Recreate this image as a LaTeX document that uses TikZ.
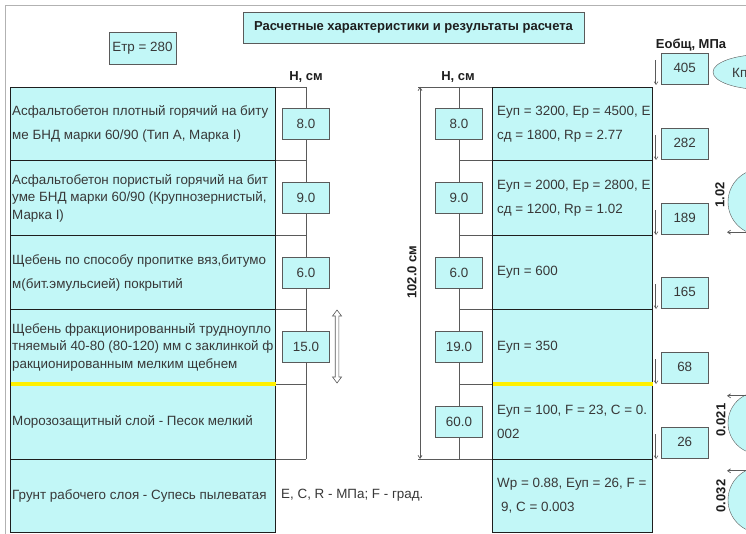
\documentclass[tikz,border=0pt]{standalone}
\usepackage{fontspec}
\setmainfont{Liberation Sans}
\definecolor{LayerCyan}{HTML}{C2F7F7}
\definecolor{LineDark}{HTML}{1E1E1E}
\definecolor{BoxGray}{HTML}{5A5A5A}
\definecolor{TextGray}{HTML}{383838}
\definecolor{FrostYellow}{HTML}{FFF000}
\usepackage{tikz}
\usetikzlibrary{arrows.meta,positioning,shapes.geometric}
\tikzset{
  layerbox/.style={
    draw=LineDark,
    line width=1.2pt,
    fill=LayerCyan,
    anchor=north west,
    inner sep=0pt
  },
  layertext/.style={
    anchor=west,
    align=left,
    inner sep=0pt,
    font=\fontsize{13.4}{24}\selectfont,
    text=TextGray
  },
  layertight/.style={
    layertext,
    font=\fontsize{13.4}{17.5}\selectfont
  },
  valbox/.style={
    draw=BoxGray,
    fill=LayerCyan,
    minimum width=47pt,
    minimum height=31pt,
    inner sep=0pt,
    font=\fontsize{13.4}{16}\selectfont,
    text=TextGray
  },
  headtext/.style={
    font=\fontsize{13}{15}\selectfont\bfseries,
    text=LineDark,
    inner sep=0pt
  },
  colline/.style={
    draw=BoxGray,
    line width=0.8pt
  },
  frostline/.style={
    draw=FrostYellow,
    line width=3.5pt
  },
  downarrow/.style={
    -{Straight Barb[length=3pt,width=4pt]},
    draw=BoxGray,
    double=white,
    double distance=0.8pt,
    line width=0.5pt
  },
  thinarrow/.style={
    -{Straight Barb[length=3pt,width=4pt]},
    draw=BoxGray,
    line width=0.7pt
  },
  roundbox/.style={
    draw=BoxGray,
    fill=LayerCyan,
    inner sep=0pt
  }
}

\begin{document}
\begin{tikzpicture}[x=1pt,y=-1pt]
\useasboundingbox (0,0) rectangle (746,534);
\clip (0,0) rectangle (746,534);
\fill[white] (0,0) rectangle (746,534);
\draw[gray!60, line width=1pt] (5,534) -- (5,6) -- (746,6);

% header
\node[valbox, headtext, minimum width=341pt, minimum height=31pt] (title) at (413.5,27.5)
  {Расчетные характеристики и результаты расчета};
\node[valbox, minimum width=67pt, minimum height=32pt] (etr) at (142.5,48) {Етр = 280};
\node[headtext] (hleft) at (306,77) {Н, см};
\node[headtext] (hright) at (458,77) {Н, см};

% layers, left side
\node[layerbox, minimum width=265pt, minimum height=73pt] (ll1) at (10,87) {};
\node[layerbox, minimum width=265pt, minimum height=75pt] (ll2) at (10,160) {};
\node[layerbox, minimum width=265pt, minimum height=74pt] (ll3) at (10,235) {};
\node[layerbox, minimum width=265pt, minimum height=75pt] (ll4) at (10,309) {};
\node[layerbox, minimum width=265pt, minimum height=75pt] (ll5) at (10,384) {};
\node[layerbox, minimum width=265pt, minimum height=73pt] (ll6) at (10,459) {};
\node[layertext] (lt1) at ([xshift=2pt]ll1.west) {Асфальтобетон плотный горячий на биту\\ме БНД марки 60/90 (Тип А, Марка I)};
\node[layertight] (lt2) at ([xshift=2pt]ll2.west) {Асфальтобетон пористый горячий на бит\\уме БНД марки 60/90 (Крупнозернистый,\\Марка I)};
\node[layertext] (lt3) at ([xshift=2pt]ll3.west) {Щебень по способу пропитке вяз,битумо\\м(бит.эмульсией) покрытий};
\node[layertight] (lt4) at ([xshift=2pt]ll4.west) {Щебень фракционированный трудноупло\\тняемый 40-80 (80-120) мм с заклинкой ф\\ракционированным мелким щебнем};
\node[layertext] (lt5) at ([xshift=2pt]ll5.west) {Морозозащитный слой - Песок мелкий};
\node[layertext] (lt6) at ([xshift=2pt]ll6.west) {Грунт рабочего слоя - Супесь пылеватая};
\node[layertext] (units) at (281,495) {E, C, R - МПа; F - град.};

% layers, right side
\node[layerbox, minimum width=160pt, minimum height=73pt] (rl1) at (492,87) {};
\node[layerbox, minimum width=160pt, minimum height=75pt] (rl2) at (492,160) {};
\node[layerbox, minimum width=160pt, minimum height=74pt] (rl3) at (492,235) {};
\node[layerbox, minimum width=160pt, minimum height=75pt] (rl4) at (492,309) {};
\node[layerbox, minimum width=160pt, minimum height=75pt] (rl5) at (492,384) {};
\node[layerbox, minimum width=160pt, minimum height=73pt] (rl6) at (492,459) {};
\node[layertext] (rt1) at ([xshift=5pt]rl1.west) {Еуп = 3200, Ер = 4500, Е\\сд = 1800, Rр = 2.77};
\node[layertext] (rt2) at ([xshift=5pt]rl2.west) {Еуп = 2000, Ер = 2800, Е\\сд = 1200, Rр = 1.02};
\node[layertext] (rt3) at ([xshift=5pt]rl3.west) {Еуп = 600};
\node[layertext] (rt4) at ([xshift=5pt]rl4.west) {Еуп = 350};
\node[layertext] (rt5) at ([xshift=5pt]rl5.west) {Еуп = 100, F = 23, C = 0.\\002};
\node[layertext] (rt6) at ([xshift=5pt]rl6.west) {Wр = 0.88, Еуп = 26, F =\\\hspace{0.3em}9, C = 0.003};

% frost boundary
\draw[frostline] ([xshift=0.6pt]ll5.north west) -- ([xshift=-0.6pt]ll5.north east);
\draw[frostline] ([xshift=0.6pt]rl5.north west) -- ([xshift=-0.6pt]rl5.north east);

% thickness column, left
\coordinate (lcol) at (306,87);
\draw[colline] (lcol) -- (lcol |- ll6.north);
\draw[colline] (ll1.north east) -- (ll1.north east -| lcol);
\draw[colline] (ll2.north east) -- (ll2.north east -| lcol);
\draw[colline] (ll3.north east) -- (ll3.north east -| lcol);
\draw[colline] (ll4.north east) -- (ll4.north east -| lcol);
\draw[colline] (ll5.north east) -- (ll5.north east -| lcol);
\draw[colline] (ll6.north east) -- (ll6.north east -| lcol);
\node[valbox] (lh1) at (lcol |- ll1.center) {8.0};
\node[valbox] (lh2) at (lcol |- ll2.center) {9.0};
\node[valbox] (lh3) at (lcol |- ll3.center) {6.0};
\node[valbox] (lh4) at (lcol |- ll4.center) {15.0};
\draw[BoxGray, fill=white, line width=0.6pt]
  (335.2,316) -- (332.5,316) -- (337,310) -- (341.5,316) -- (338.8,316)
  -- (338.8,377) -- (341.5,377) -- (337,383) -- (332.5,377) -- (335.2,377) -- cycle;

% thickness column, right
\coordinate (rcol) at (459,87);
\coordinate (dimtop) at (420,87);
\coordinate (dimbot) at (420,459);
\draw[colline] (rcol) -- (rcol |- rl6.north);
\draw[colline] (418,87) -- (rl1.north west);
\draw[colline] (dimbot) ++(-2,0) -- (rl6.north west);
\draw[colline] (rl2.north west) -- (rl2.north west -| rcol);
\draw[colline] (rl3.north west) -- (rl3.north west -| rcol);
\draw[colline] (rl4.north west) -- (rl4.north west -| rcol);
\draw[colline] (rl5.north west) -- (rl5.north west -| rcol);
\draw[thinarrow, {Straight Barb[length=3pt,width=4pt]}-{Straight Barb[length=3pt,width=4pt]}] (dimtop) -- (dimbot);
\node[headtext, rotate=90] (total) at (412,272) {102.0 см};
\node[valbox] (rh1) at (rcol |- rl1.center) {8.0};
\node[valbox] (rh2) at (rcol |- rl2.center) {9.0};
\node[valbox] (rh3) at (rcol |- rl3.center) {6.0};
\node[valbox] (rh4) at (rcol |- rl4.center) {19.0};
\node[valbox] (rh5) at (rcol |- rl5.center) {60.0};

% general moduli
\node[valbox, anchor=south west] (e0) at (661,84) {405};
\node[valbox, anchor=south west] (e1) at (661,159) {282};
\node[valbox, anchor=south west] (e2) at (661,234) {189};
\node[valbox, anchor=south west] (e3) at (661,308) {165};
\node[valbox, anchor=south west] (e4) at (661,383) {68};
\node[valbox, anchor=south west] (e5) at (661,458) {26};
\node[headtext] (etotal) at (691,45) {Еобщ, МПа};
\draw[downarrow] ([xshift=-5pt,yshift=24pt]e0.south west) -- ([xshift=-5pt,yshift=-1pt]e0.south west);
\draw[downarrow] ([xshift=-5pt,yshift=24pt]e1.south west) -- ([xshift=-5pt,yshift=-1pt]e1.south west);
\draw[downarrow] ([xshift=-5pt,yshift=24pt]e2.south west) -- ([xshift=-5pt,yshift=-1pt]e2.south west);
\draw[downarrow] ([xshift=-5pt,yshift=24pt]e3.south west) -- ([xshift=-5pt,yshift=-1pt]e3.south west);
\draw[downarrow] ([xshift=-5pt,yshift=24pt]e4.south west) -- ([xshift=-5pt,yshift=-1pt]e4.south west);
\draw[downarrow] ([xshift=-5pt,yshift=24pt]e5.south west) -- ([xshift=-5pt,yshift=-1pt]e5.south west);

% coefficients
\node[roundbox, ellipse, minimum width=100pt, minimum height=35pt] (kpr) at (763,72) {};
\node[layertext] (kprtext) at (732,73) {Кп};
\node[roundbox, circle, minimum size=66pt] (c1) at (761,202) {};
\node[roundbox, circle, minimum size=62pt] (c2) at (759,423) {};
\node[roundbox, circle, minimum size=66pt] (c3) at (761,500) {};
\node[headtext, rotate=90] (k1) at (720,195) {1.02};
\node[headtext, rotate=90] (k2) at (721,420) {0.021};
\node[headtext, rotate=90] (k3) at (721,496) {0.032};
\draw[thinarrow] ([yshift=3pt]c1.south) -- ++(-34,0);
\draw[thinarrow] ([yshift=-4pt]c2.north) -- ++(-32,0);
\draw[thinarrow] ([yshift=-4pt]c3.north) -- ++(-34,0);
\end{tikzpicture}
\end{document}
